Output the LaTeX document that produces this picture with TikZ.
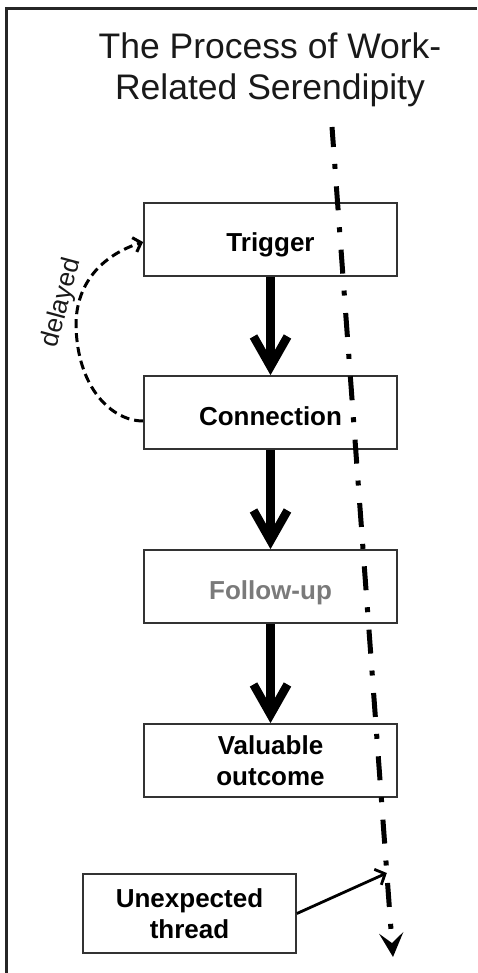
\documentclass[tikz,border=0pt]{standalone}
\usepackage{fontspec}
\setmainfont{Liberation Sans}
\usetikzlibrary{arrows.meta,calc}

\begin{document}
\begin{tikzpicture}[x=1pt,y=-1pt,
  stage/.style={draw=black!80, line width=1.8pt, fill=white,
    minimum width=253pt, minimum height=73pt, inner sep=0pt, align=center,
    font=\fontsize{26}{31}\selectfont\bfseries},
  oneline/.style={text height=25pt, text depth=0pt},
  flow/.style={line width=8.5pt, black,
    -{Straight Barb[length=30pt,width=34pt]}},
  loopback/.style={line width=3pt, dash pattern=on 9pt off 5pt,
    -{Straight Barb[length=7pt,width=15pt]}},
  thread/.style={line width=5pt, line cap=butt,
    dash pattern=on 24pt off 17pt on 5pt off 17.5pt, dash phase=4pt,
    -{Stealth[length=24pt,width=24pt,inset=10pt]}},
  feed/.style={line width=2.8pt, -{Straight Barb[length=8pt,width=17pt]}},
  titletext/.style={font=\fontsize{35.5}{40}\selectfont, text=black!90, anchor=base, inner sep=0pt}
]
\useasboundingbox (0,0) rectangle (477,973);

% frame
\draw[line width=2.2pt, black!85] (6.5,973) -- (6.5,8.5) -- (477,8.5);

% title
\node[titletext] (title1) at (270,59) {The Process of Work-};
\node[titletext] (title2) at (270,100) {Related Serendipity};

% process stages
\node[stage, oneline] (trig) at (270.5,239.5) {Trigger};
\node[stage, oneline] (conn) at (270.5,412.5) {Connection};
\node[stage, oneline, text=black!52] (foll) at (270.5,586.5) {Follow-up};
\node[stage] (val) at (270.5,760.5) {Valuable\\outcome};
\node[stage, minimum width=213pt, minimum height=79pt] (unexp) at (189.5,913.5) {Unexpected\\thread};

% main flow
\draw[flow] (trig.south) -- (conn.north);
\draw[flow] (conn.south) -- (foll.north);
\draw[flow] (foll.south) -- (val.north);

% delayed loop from connection back to trigger
\draw[loopback] (conn.west |- 0,421)
  .. controls (112,421) and (77,388) .. (76,325)
  .. controls (76,285) and (100,256) .. (trig.west |- 0,242);
\node[rotate=75, font=\fontsize{26}{30}\selectfont, text=black!90, inner sep=0pt] (dlabel) at (62,303) {delayed};

% the serendipity thread running through the process
\coordinate (thrTop) at (332,127);
\coordinate (thrEnd) at (393,957);
\coordinate (join) at ($(thrTop)!0.8988!(thrEnd)$);
\draw[thread] (thrTop) -- (thrEnd);

% unexpected thread joining in
\draw[feed] (unexp.east) -- (join);
\end{tikzpicture}
\end{document}
